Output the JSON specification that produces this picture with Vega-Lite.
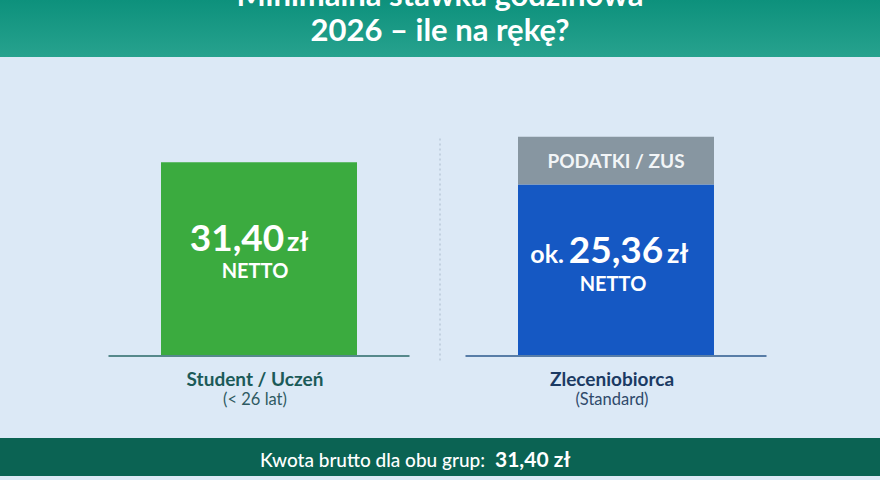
{
  "$schema": "https://vega.github.io/schema/vega-lite/v6.json",
  "width": 880,
  "height": 480,
  "autosize": {"type": "none"},
  "padding": 0,
  "background": "#dce9f6",
  "config": {"view": {"stroke": null}, "font": "Lato"},
  "datasets": {
    "slupki": [
      {"grupa": "Student / Uczeń", "czesc": "Netto student", "od": 0, "do": 31.4},
      {"grupa": "Zleceniobiorca", "czesc": "Netto zleceniobiorca", "od": 0, "do": 27.8},
      {"grupa": "Zleceniobiorca", "czesc": "Podatki / ZUS", "od": 27.8, "do": 35.57}
    ],
    "grupy": [
      {"grupa": "Student / Uczeń", "opis": "(< 26 lat)"},
      {"grupa": "Zleceniobiorca", "opis": "(Standard)"}
    ]
  },
  "layer": [
    {
      "data": {"values": [{"pas": "naglowek"}]},
      "mark": {"type": "rect", "color": {"gradient": "linear", "x1": 0, "y1": 0, "x2": 0, "y2": 1, "stops": [{"offset": 0, "color": "#0d917c"}, {"offset": 1, "color": "#27a28e"}]}},
      "encoding": {
        "y": {"datum": 57.85, "type": "quantitative", "scale": {"domain": [-20.37, 57.85], "nice": false, "zero": false}, "axis": null},
        "y2": {"datum": 48.56}
      }
    },
    {
      "data": {"values": [{"pas": "stopka"}]},
      "mark": {"type": "rect", "color": "#0b6353"},
      "encoding": {
        "y": {"datum": -13.52, "type": "quantitative"},
        "y2": {"datum": -19.72}
      }
    },
    {
      "data": {"values": [{"linia": "podzial"}]},
      "mark": {"type": "rule", "color": "#b3c2d2", "strokeWidth": 1.2, "strokeDash": [2, 3]},
      "encoding": {
        "y": {"datum": 35.3, "type": "quantitative"},
        "y2": {"datum": -1.3}
      }
    },
    {
      "data": {"name": "slupki"},
      "mark": {"type": "bar"},
      "encoding": {
        "x": {"field": "grupa", "type": "nominal", "sort": null, "axis": null,
              "scale": {"domain": ["Student / Uczeń", "Zleceniobiorca"], "range": [0, 875], "paddingInner": 0.451, "paddingOuter": 0.451}},
        "y": {"field": "od", "type": "quantitative"},
        "y2": {"field": "do"},
        "color": {"field": "czesc", "type": "nominal", "legend": null,
                  "scale": {"domain": ["Netto student", "Netto zleceniobiorca", "Podatki / ZUS"], "range": ["#3bab3f", "#1558c3", "#8796a1"]}}
      }
    },
    {
      "data": {"name": "grupy"},
      "mark": {"type": "tick", "size": 301, "thickness": 2},
      "encoding": {
        "x": {"field": "grupa", "type": "nominal"},
        "y": {"datum": -0.15, "type": "quantitative"},
        "color": {"condition": {"test": "datum.grupa === 'Zleceniobiorca'", "value": "#1f4f86"}, "value": "#1d5f5e"}
      }
    },
    {
      "data": {"values": [{"tekst": "Minimalna stawka godzinowa"}]},
      "mark": {"type": "text", "font": "Lato", "fontWeight": "bold", "fontSize": 31, "color": "white", "baseline": "alphabetic", "align": "center"},
      "encoding": {"y": {"datum": 56.85, "type": "quantitative"}, "text": {"field": "tekst"}}
    },
    {
      "data": {"values": [{"tekst": "2026 – ile na rękę?"}]},
      "mark": {"type": "text", "font": "Lato", "fontWeight": "bold", "fontSize": 31, "color": "white", "baseline": "alphabetic", "align": "center"},
      "encoding": {"y": {"datum": 51.2, "type": "quantitative"}, "text": {"field": "tekst"}}
    },
    {
      "data": {"values": [{"grupa": "Student / Uczeń", "tekst": "31,40"}]},
      "mark": {"type": "text", "font": "Lato", "fontWeight": "bold", "fontSize": 37, "color": "white", "baseline": "alphabetic", "align": "center", "dx": -22},
      "encoding": {"x": {"field": "grupa", "type": "nominal"}, "y": {"datum": 16.95, "type": "quantitative"}, "text": {"field": "tekst"}}
    },
    {
      "data": {"values": [{"grupa": "Student / Uczeń", "tekst": "zł"}]},
      "mark": {"type": "text", "font": "Lato", "fontWeight": "bold", "fontSize": 27, "color": "white", "baseline": "alphabetic", "align": "left", "dx": 28},
      "encoding": {"x": {"field": "grupa", "type": "nominal"}, "y": {"datum": 16.95, "type": "quantitative"}, "text": {"field": "tekst"}}
    },
    {
      "data": {"values": [{"grupa": "Zleceniobiorca", "tekst": "ok."}]},
      "mark": {"type": "text", "font": "Lato", "fontWeight": "bold", "fontSize": 25, "color": "white", "baseline": "alphabetic", "align": "right", "dx": -52},
      "encoding": {"x": {"field": "grupa", "type": "nominal"}, "y": {"datum": 14.94, "type": "quantitative"}, "text": {"field": "tekst"}}
    },
    {
      "data": {"values": [{"grupa": "Zleceniobiorca", "tekst": "25,36"}]},
      "mark": {"type": "text", "font": "Lato", "fontWeight": "bold", "fontSize": 37, "color": "white", "baseline": "alphabetic", "align": "center", "dx": 0},
      "encoding": {"x": {"field": "grupa", "type": "nominal"}, "y": {"datum": 14.94, "type": "quantitative"}, "text": {"field": "tekst"}}
    },
    {
      "data": {"values": [{"grupa": "Zleceniobiorca", "tekst": "zł"}]},
      "mark": {"type": "text", "font": "Lato", "fontWeight": "bold", "fontSize": 27, "color": "white", "baseline": "alphabetic", "align": "left", "dx": 51},
      "encoding": {"x": {"field": "grupa", "type": "nominal"}, "y": {"datum": 14.94, "type": "quantitative"}, "text": {"field": "tekst"}}
    },
    {
      "data": {"values": [{"grupa": "Student / Uczeń", "tekst": "NETTO"}]},
      "mark": {"type": "text", "font": "Lato", "fontWeight": "bold", "fontSize": 20, "color": "white", "baseline": "alphabetic", "align": "center", "dx": -4},
      "encoding": {"x": {"field": "grupa", "type": "nominal"}, "y": {"datum": 12.6, "type": "quantitative"}, "text": {"field": "tekst"}}
    },
    {
      "data": {"values": [{"grupa": "Zleceniobiorca", "tekst": "NETTO"}]},
      "mark": {"type": "text", "font": "Lato", "fontWeight": "bold", "fontSize": 20, "color": "white", "baseline": "alphabetic", "align": "center", "dx": -3},
      "encoding": {"x": {"field": "grupa", "type": "nominal"}, "y": {"datum": 10.48, "type": "quantitative"}, "text": {"field": "tekst"}}
    },
    {
      "data": {"values": [{"grupa": "Zleceniobiorca", "tekst": "PODATKI / ZUS"}]},
      "mark": {"type": "text", "font": "Lato", "fontWeight": "bold", "fontSize": 19, "color": "#f2f5f7", "baseline": "alphabetic", "align": "center", "dx": 0},
      "encoding": {"x": {"field": "grupa", "type": "nominal"}, "y": {"datum": 30.42, "type": "quantitative"}, "text": {"field": "tekst"}}
    },
    {
      "data": {"name": "grupy"},
      "mark": {"type": "text", "font": "Lato", "fontWeight": "bold", "fontSize": 19, "baseline": "alphabetic", "align": "center", "dx": -4},
      "encoding": {
        "x": {"field": "grupa", "type": "nominal"},
        "y": {"datum": -5.0, "type": "quantitative"},
        "text": {"field": "grupa"},
        "color": {"condition": {"test": "datum.grupa === 'Zleceniobiorca'", "value": "#1b3a63"}, "value": "#1b5a58"}
      }
    },
    {
      "data": {"name": "grupy"},
      "mark": {"type": "text", "font": "Lato", "fontSize": 16.5, "baseline": "alphabetic", "align": "center", "dx": -4},
      "encoding": {
        "x": {"field": "grupa", "type": "nominal"},
        "y": {"datum": -8.1, "type": "quantitative"},
        "text": {"field": "opis"},
        "color": {"condition": {"test": "datum.grupa === 'Zleceniobiorca'", "value": "#2f4a6b"}, "value": "#2f5a62"}
      }
    },
    {
      "data": {"values": [{"tekst": "Kwota brutto dla obu grup:"}]},
      "mark": {"type": "text", "font": "Lato", "fontWeight": 500, "fontSize": 19, "color": "white", "baseline": "alphabetic", "align": "right", "dx": 45},
      "encoding": {"y": {"datum": -18.2, "type": "quantitative"}, "text": {"field": "tekst"}}
    },
    {
      "data": {"values": [{"tekst": "31,40 zł"}]},
      "mark": {"type": "text", "font": "Lato", "fontWeight": "bold", "fontSize": 21, "color": "white", "baseline": "alphabetic", "align": "left", "dx": 55},
      "encoding": {"y": {"datum": -18.2, "type": "quantitative"}, "text": {"field": "tekst"}}
    }
  ]
}
